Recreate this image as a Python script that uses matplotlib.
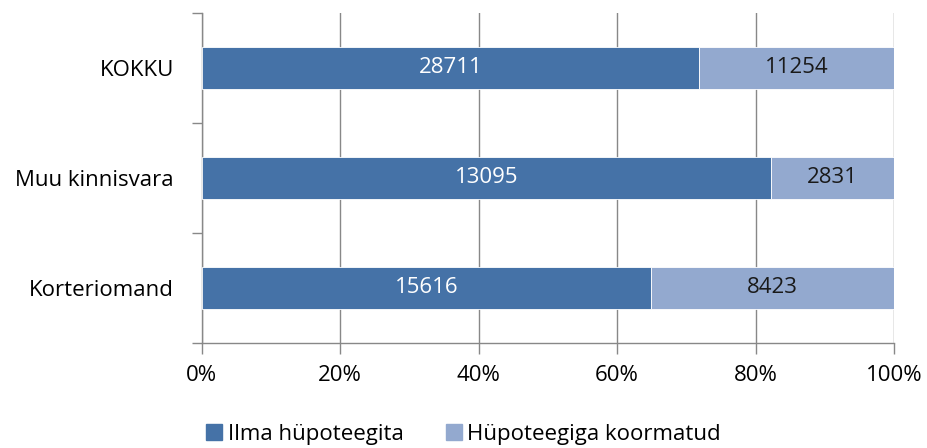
import matplotlib
matplotlib.use("Agg")
import matplotlib.pyplot as plt
import matplotlib.patches as mpatches
import numpy as np

plt.rcParams["font.family"] = ["Open Sans", "DejaVu Sans"]

# ── Data ─────────────────────────────────────────────
categories = ["Korteriomand", "Muu kinnisvara", "KOKKU"]
ilma = [15616, 13095, 28711]
hupo = [8423, 2831, 11254]
series_names = ["Ilma hüpoteegita", "Hüpoteegiga koormatud"]
xticks = [0, 20, 40, 60, 80, 100]

DARK = "#4572A7"
LIGHT = "#93A9CF"
GRID = "#888888"
FS = 16

fig = plt.figure(figsize=(9.27, 4.48), dpi=100)
ax = fig.add_axes([0.2176, 0.2344, 0.7468, 0.7366])

ilma_a = np.array(ilma, dtype=float)
hupo_a = np.array(hupo, dtype=float)
tot = ilma_a + hupo_a
p1 = ilma_a / tot * 100
p2 = hupo_a / tot * 100
y = np.arange(len(categories))

ax.barh(y, p1, height=0.39, color=DARK, edgecolor="white", linewidth=0.6, zorder=3)
ax.barh(y, p2, left=p1, height=0.39, color=LIGHT, edgecolor="white", linewidth=0.6, zorder=3)

for i in range(len(categories)):
    ax.text(p1[i] / 2, y[i], f"{ilma[i]}", ha="center", va="center",
            color="white", fontsize=FS, zorder=4)
    ax.text(p1[i] + p2[i] / 2, y[i], f"{hupo[i]}", ha="center", va="center",
            color="#1a1a1a", fontsize=FS, zorder=4)

ax.set_xlim(0, 100)
ax.set_ylim(-0.5, 2.5)
ax.set_xticks(xticks)
ax.set_xticklabels([f"{t}%" for t in xticks], fontsize=FS)
ax.xaxis.grid(True, color=GRID, linewidth=1.0, zorder=0)

# category labels at centers, tick marks at boundaries
ax.set_yticks(y)
ax.set_yticklabels(categories, fontsize=FS)
ax.tick_params(axis="y", length=0, pad=20)
ax.set_yticks([-0.5, 0.5, 1.5, 2.5], minor=True)
ax.tick_params(axis="y", which="minor", length=7, color=GRID, width=1.0)
ax.tick_params(axis="x", length=8, color=GRID, width=1.0, pad=8)

for side in ["top", "right"]:
    ax.spines[side].set_visible(False)
ax.spines["left"].set_color(GRID)
ax.spines["bottom"].set_color(GRID)
ax.spines["left"].set_linewidth(1.0)
ax.spines["bottom"].set_linewidth(1.0)

handles = [mpatches.Patch(color=DARK, label=series_names[0]),
           mpatches.Patch(color=LIGHT, label=series_names[1])]
fig.legend(handles=handles, loc="center", bbox_to_anchor=(0.5, 0.03),
           ncol=2, frameon=False, fontsize=FS, handlelength=0.72,
           handleheight=0.72, handletextpad=0.25, columnspacing=1.9,
           borderpad=0)

fig.savefig("out.png", dpi=100, facecolor="white")
plt.close(fig)
